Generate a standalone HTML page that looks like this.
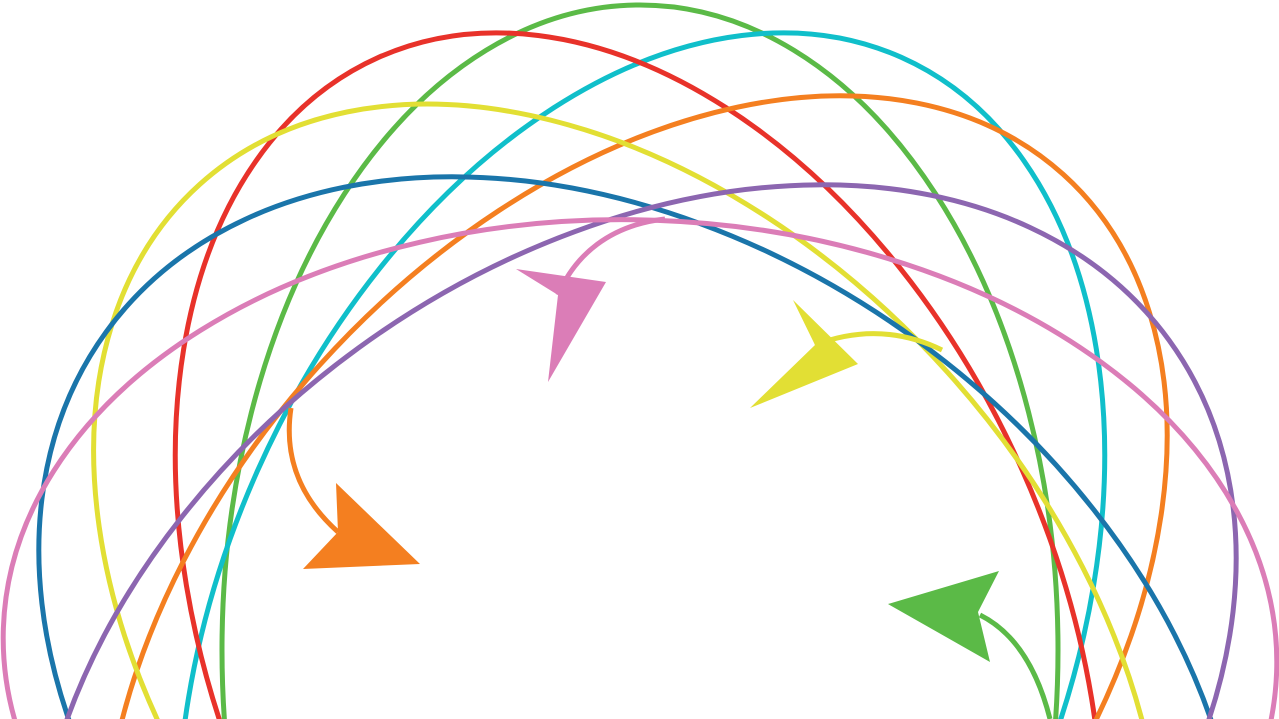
<!DOCTYPE html>
<html><head><style>html,body{margin:0;padding:0;background:#fff;overflow:hidden}</style></head>
<body>
<svg width="1279" height="719" viewBox="0 0 1279 719" xmlns="http://www.w3.org/2000/svg" fill="none" stroke-width="5" style="display:block">
<ellipse cx="640" cy="650" rx="418" ry="645" stroke="#5bba47"/>
<ellipse cx="641" cy="642" rx="420" ry="640" stroke="#10bfca" transform="rotate(24 641 642)"/>
<ellipse cx="639" cy="642" rx="420" ry="640" stroke="#e8322a" transform="rotate(-24 639 642)"/>
<ellipse cx="635" cy="650" rx="425" ry="640" stroke="#f47f20" transform="rotate(42 635 650)"/>
<ellipse cx="628" cy="660" rx="430" ry="640" stroke="#e2df34" transform="rotate(-42 628 660)"/>
<ellipse cx="640" cy="720" rx="660" ry="470" stroke="#1a75aa" transform="rotate(36 640 720)"/>
<ellipse cx="635" cy="728" rx="660" ry="470" stroke="#8c66b0" transform="rotate(-36 635 728)"/>
<ellipse cx="640" cy="650" rx="637" ry="430" stroke="#db7db7" transform="rotate(2 640 650)"/>
<path d="M665 219 C610 225 575 255 558 295" stroke="#db7db7" stroke-width="5"/>
<polygon points="516,269 606,282 548,382 558,295" fill="#db7db7" stroke="none"/>
<path d="M942 350 Q880 320 815 345" stroke="#e2df34" stroke-width="5"/>
<polygon points="793,300 858,364 750,408 815,345" fill="#e2df34" stroke="none"/>
<path d="M291 408 Q280 480 338 532" stroke="#f47f20" stroke-width="5"/>
<polygon points="336,483 420,564 303,569 338,532" fill="#f47f20" stroke="none"/>
<path d="M1050 719 Q1030 640 980 615" stroke="#5bba47" stroke-width="5"/>
<polygon points="999,571 888,604 990,662 978,612" fill="#5bba47" stroke="none"/>
</svg>
</body></html>
